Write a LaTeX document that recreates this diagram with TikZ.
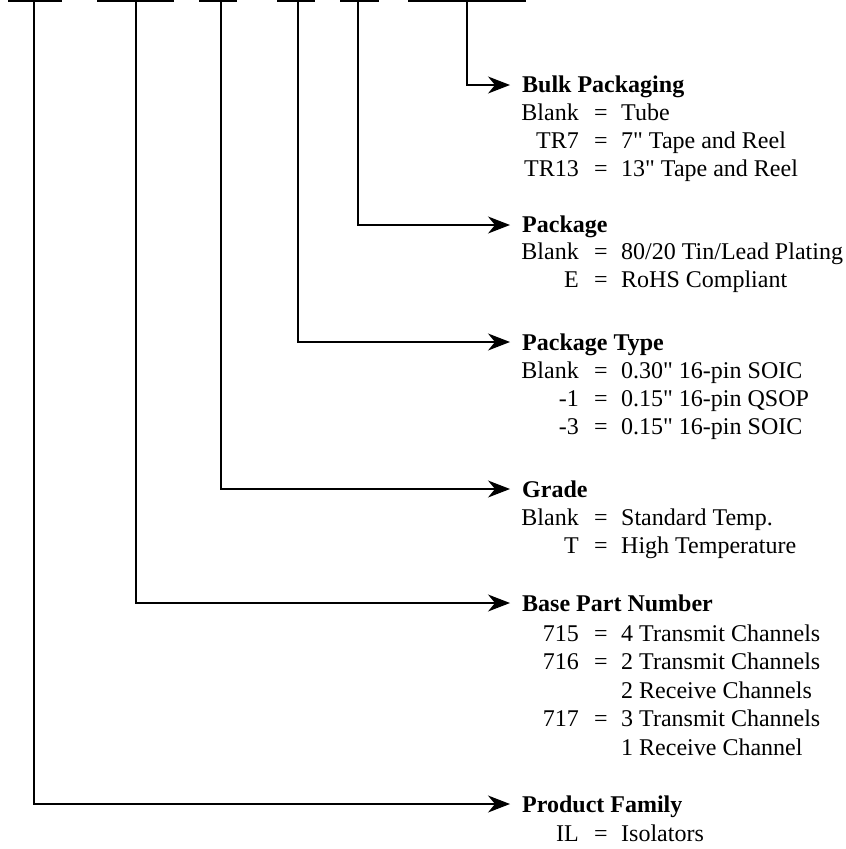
\documentclass[tikz,border=0pt]{standalone}
\usepackage{fontspec}
\setmainfont{Liberation Serif}[Ligatures=TeXOff]
\usetikzlibrary{arrows.meta}
\begin{document}
\begin{tikzpicture}[x=1pt,y=-1pt,
  conn/.style={line width=1.2pt, -{Stealth[length=22pt,width=17pt,inset=7pt]}},
  bar/.style={line width=1.2pt},
  head/.style={anchor=base west, inner sep=0pt, font=\fontsize{24}{28}\selectfont\bfseries},
  lbl/.style={anchor=base east, inner sep=0pt, font=\fontsize{24}{28}\selectfont},
  eqs/.style={anchor=base, inner sep=0pt, font=\fontsize{24}{28}\selectfont},
  val/.style={anchor=base west, inner sep=0pt, font=\fontsize{24}{28}\selectfont}]
\useasboundingbox (0,0) rectangle (846,849);
\newcommand\partline[4]{%
  \node[lbl] (#1l) at (579,#2) {#3};
  \node[eqs] (#1e) at (601,#2) {=};
  \node[val] (#1v) at (621,#2) {#4};}
\newcommand\contline[3]{\node[val] (#1v) at (621,#2) {#3};}
% top bars
\draw[bar] (8,1) -- (62,1);
\draw[bar] (97,1) -- (174,1);
\draw[bar] (199,1) -- (237,1);
\draw[bar] (277,1) -- (315,1);
\draw[bar] (340,1) -- (379,1);
\draw[bar] (408,1) -- (526,1);
\coordinate (t1) at (34,1);
\coordinate (t2) at (136,1);
\coordinate (t3) at (221,1);
\coordinate (t4) at (298,1);
\coordinate (t5) at (358,1);
\coordinate (t6) at (467,1);
% arrow tips
\coordinate (a6) at (510,85);
\coordinate (a5) at (510,225);
\coordinate (a4) at (510,342);
\coordinate (a3) at (510,489);
\coordinate (a2) at (510,603);
\coordinate (a1) at (510,804);
\draw[conn] (t6) |- (a6);
\draw[conn] (t5) |- (a5);
\draw[conn] (t4) |- (a4);
\draw[conn] (t3) |- (a3);
\draw[conn] (t2) |- (a2);
\draw[conn] (t1) |- (a1);
% Bulk Packaging
\node[head] (h6) at (522,92) {Bulk Packaging};
\partline{b1}{120}{Blank}{Tube}
\partline{b2}{148}{TR7}{7" Tape and Reel}
\partline{b3}{176}{TR13}{13" Tape and Reel}
% Package
\node[head] (h5) at (522,232) {Package};
\partline{p1}{259}{Blank}{80/20 Tin/Lead Plating}
\partline{p2}{287}{E}{RoHS Compliant}
% Package Type
\node[head] (h4) at (522,350) {Package Type};
\partline{q1}{378}{Blank}{0.30" 16-pin SOIC}
\partline{q2}{406}{-1}{0.15" 16-pin QSOP}
\partline{q3}{434}{-3}{0.15" 16-pin SOIC}
% Grade
\node[head] (h3) at (522,497) {Grade};
\partline{g1}{525}{Blank}{Standard Temp.}
\partline{g2}{553}{T}{High Temperature}
% Base Part Number
\node[head] (h2) at (522,611) {Base Part Number};
\partline{n1}{641}{715}{4 Transmit Channels}
\partline{n2}{669}{716}{2 Transmit Channels}
\contline{n3}{698}{2 Receive Channels}
\partline{n4}{726}{717}{3 Transmit Channels}
\contline{n5}{755}{1 Receive Channel}
% Product Family
\node[head] (h1) at (522,812) {Product Family};
\partline{f1}{841}{IL}{Isolators}
\end{tikzpicture}
\end{document}
